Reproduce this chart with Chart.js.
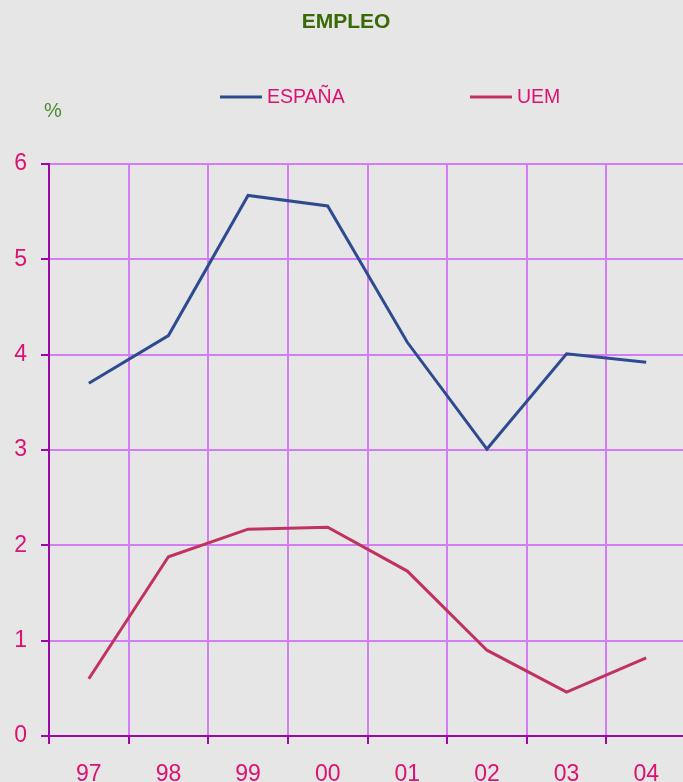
<!DOCTYPE html>
<html>
<head>
<meta charset="utf-8">
<script src="https://cdn.jsdelivr.net/npm/chart.js@4/dist/chart.umd.min.js"></script>
<style>
  html, body { margin: 0; padding: 0; background: #e6e6e6; overflow: hidden; }
  #wrap { width: 700px; height: 782px; }
</style>
</head>
<body>
<div id="wrap"><canvas id="empleoChart" width="700" height="782"></canvas></div>
<script>
const years = ['97', '98', '99', '00', '01', '02', '03', '04'];
const espana = [3.70, 4.20, 5.67, 5.56, 4.13, 3.01, 4.01, 3.92];
const uem = [0.60, 1.88, 2.17, 2.19, 1.73, 0.90, 0.46, 0.82];
const yTicks = [0, 1, 2, 3, 4, 5, 6];

const pink = '#dc1273';
const gridViolet = '#d27cf6';
const axisPurple = '#9a0aa6';
const font = '"Liberation Sans", Arial, sans-serif';

// title, "%" and legend painted on the canvas
const decorations = {
  id: 'decorations',
  afterDraw(chart) {
    const ctx = chart.ctx;
    ctx.save();
    ctx.textBaseline = 'middle';
    ctx.fillStyle = '#3a6a06';
    ctx.font = 'bold 21px ' + font;
    ctx.textAlign = 'center';
    ctx.fillText('EMPLEO', 346, 22);

    ctx.fillStyle = '#4f8a2e';
    ctx.font = '20px ' + font;
    ctx.textAlign = 'left';
    ctx.fillText('%', 44, 111);

    const starts = [220, 470];
    chart.data.datasets.forEach((ds, i) => {
      const x = starts[i];
      ctx.strokeStyle = ds.borderColor;
      ctx.lineWidth = 3;
      ctx.beginPath();
      ctx.moveTo(x, 97);
      ctx.lineTo(x + 42, 97);
      ctx.stroke();
      ctx.fillStyle = pink;
      ctx.font = '19.5px ' + font;
      ctx.fillText(ds.label, x + 47, 98);
    });
    ctx.restore();
  }
};

new Chart(document.getElementById('empleoChart'), {
  type: 'line',
  data: {
    labels: years,
    datasets: [
      {
        label: 'ESPAÑA',
        data: espana,
        borderColor: '#2f4b8f',
        borderWidth: 3,
        pointRadius: 0,
        tension: 0,
        fill: false
      },
      {
        label: 'UEM',
        data: uem,
        borderColor: '#c0335f',
        borderWidth: 3,
        pointRadius: 0,
        tension: 0,
        fill: false
      }
    ]
  },
  options: {
    responsive: false,
    animation: false,
    layout: { padding: { top: 164, left: 0, right: 14, bottom: 0 } },
    plugins: {
      legend: { display: false },
      title: { display: false },
      tooltip: { enabled: false }
    },
    scales: {
      x: {
        offset: true,
        afterFit(scale) { scale.height = 46; },
        grid: {
          offset: true,
          color: gridViolet,
          lineWidth: 2,
          tickColor: axisPurple,
          tickLength: 8,
          tickWidth: 2
        },
        border: { color: axisPurple, width: 2 },
        ticks: {
          color: pink,
          font: { family: font, size: 23 },
          padding: 17,
          maxRotation: 0
        }
      },
      y: {
        min: 0,
        max: 6,
        afterFit(scale) { scale.width = 49; },
        afterBuildTicks(scale) { scale.ticks = yTicks.map(v => ({ value: v })); },
        grid: {
          color: gridViolet,
          lineWidth: 2,
          tickColor: axisPurple,
          tickLength: 8,
          tickWidth: 2
        },
        border: { color: axisPurple, width: 2 },
        ticks: {
          color: pink,
          font: { family: font, size: 23 },
          padding: 14
        }
      }
    }
  },
  plugins: [decorations]
});
</script>
</body>
</html>
